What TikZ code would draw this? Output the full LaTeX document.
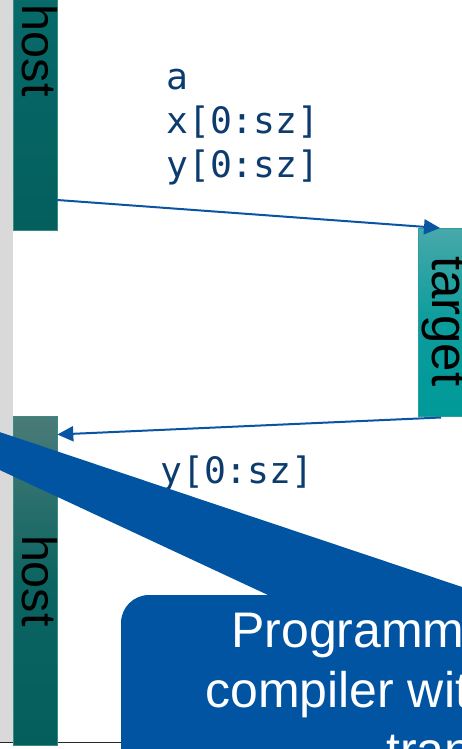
\documentclass[tikz,border=0pt]{standalone}
\usepackage{fontspec}
\setmainfont{Liberation Sans}
\newfontfamily\codefont{DejaVu Sans Mono}
\usetikzlibrary{arrows.meta}

\definecolor{stripgray}{RGB}{217,217,217}
\definecolor{flowblue}{RGB}{10,85,163}
\definecolor{codeblue}{RGB}{12,60,110}
\definecolor{calloutblue}{RGB}{0,84,162}
\definecolor{hostedge}{RGB}{58,138,134}
\definecolor{targetedge}{RGB}{40,160,160}

\begin{document}
\begin{tikzpicture}[x=1pt,y=-1pt,
  barbox/.style={inner sep=0pt, outer sep=0pt, anchor=north west, line width=0.8pt},
  barlabel/.style={inner sep=0pt, anchor=base west, rotate=-90, text=black},
  codetext/.style={inner sep=0pt, anchor=base west, text=codeblue,
    font=\codefont\fontsize{36.4}{40}\selectfont},
  flow/.style={draw=flowblue, line width=2pt,
    -{Triangle[length=16pt,width=15pt]}},
  callouttext/.style={inner sep=0pt, anchor=base west, text=white,
    font=\fontsize{50}{54}\selectfont}]

\useasboundingbox (0,0) rectangle (462,749);
\clip (0,0) rectangle (462,749);

% side strip and baseline rule
\fill[stripgray] (0,0) rectangle (13,742);
\draw[line width=1pt, draw={rgb,255:red,40;green,40;blue,40}] (0,742.3) -- (121,742.3);

% lifeline bars
\node[barbox, draw=hostedge, minimum width=44.3pt, minimum height=240pt,
  top color={rgb,255:red,8;green,106;blue,106},
  bottom color={rgb,255:red,3;green,95;blue,93}] (h1) at (13,-10) {};
\node[barbox, draw=hostedge, minimum width=44.3pt, minimum height=329.5pt,
  top color={rgb,255:red,74;green,123;blue,120},
  bottom color={rgb,255:red,3;green,95;blue,93},
  middle color={rgb,255:red,12;green,100;blue,97}] (h2) at (13,416) {};
\node[barbox, draw=targetedge, minimum width=60pt, minimum height=188pt,
  top color={rgb,255:red,72;green,168;blue,170},
  bottom color={rgb,255:red,0;green,153;blue,153},
  middle color={rgb,255:red,12;green,156;blue,156}] (tg) at (418,228) {};

% bar captions
\node[barlabel, font=\fontsize{48.5}{50}\selectfont] (t1) at (23,4.8) {host};
\node[barlabel, font=\fontsize{48.5}{50}\selectfont] (t2) at (23,534.8) {host};
\node[barlabel, font=\fontsize{51}{53}\selectfont] (t3) at (432.5,255.8) {target};

% data moved in each direction
\node[codetext] (c1) at (166,89.5) {a};
\node[codetext] (c2) at (166,133) {x[0:sz]};
\node[codetext] (c3) at (166,177) {y[0:sz]};
\node[codetext] (c4) at (160,483.5) {y[0:sz]};

% transfers
\draw[flow] ([yshift=30pt]h1.south east) -- ([xshift=22pt]tg.north west);
\draw[flow] ([xshift=23pt,yshift=-1.5pt]tg.south west) -- ([yshift=-18.5pt]h2.north east);

% callout
\coordinate (tip) at (-290,335);
\node[barbox, fill=calloutblue, rounded corners=28pt,
  minimum width=600pt, minimum height=400pt] (cb) at (121,595) {};
\fill[calloutblue] (tip) -- ([xshift=147pt]cb.north west)
  -- ([xshift=147pt,yshift=-25pt]cb.north west)
  -- ([xshift=365pt,yshift=-25pt]cb.north west)
  -- ([xshift=365pt]cb.north west) -- cycle;
\node[callouttext] (l1) at (231,647) {Programm};
\node[callouttext] (l2) at (205,707) {compiler wit};
\node[callouttext] (l3) at (386,767) {tran};
\end{tikzpicture}
\end{document}
